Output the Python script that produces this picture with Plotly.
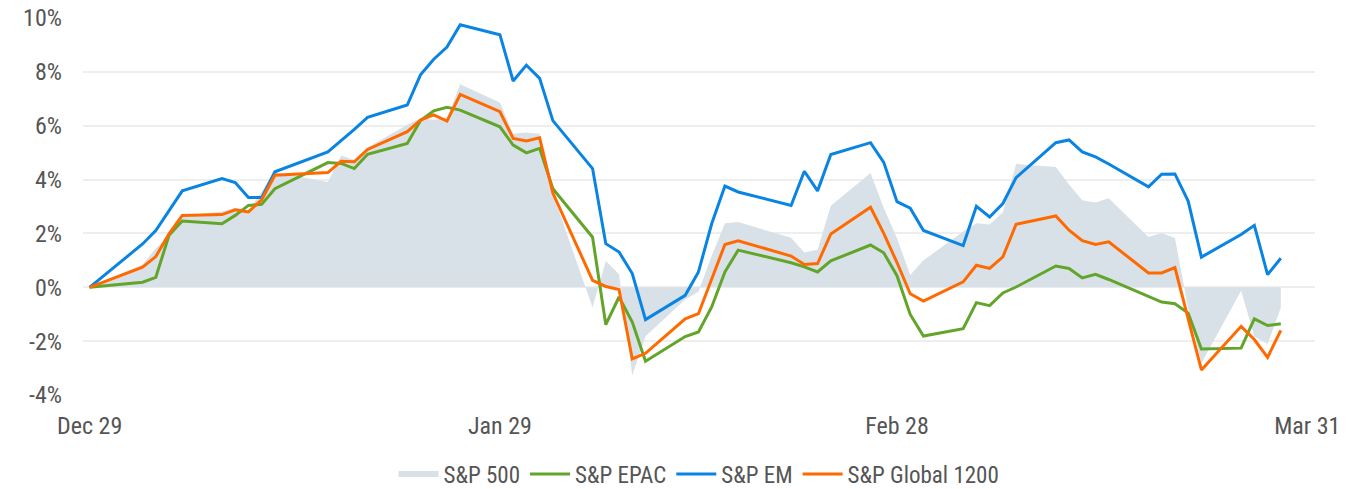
import plotly.graph_objects as go

dates = ["2017-12-29",
         "2018-01-02", "2018-01-03", "2018-01-04", "2018-01-05", "2018-01-08", "2018-01-09", "2018-01-10",
         "2018-01-11", "2018-01-12", "2018-01-16", "2018-01-17", "2018-01-18", "2018-01-19", "2018-01-22",
         "2018-01-23", "2018-01-24", "2018-01-25", "2018-01-26", "2018-01-29", "2018-01-30", "2018-01-31",
         "2018-02-01", "2018-02-02", "2018-02-05", "2018-02-06", "2018-02-07", "2018-02-08", "2018-02-09",
         "2018-02-12", "2018-02-13", "2018-02-14", "2018-02-15", "2018-02-16", "2018-02-20", "2018-02-21",
         "2018-02-22", "2018-02-23", "2018-02-26", "2018-02-27", "2018-02-28",
         "2018-03-01", "2018-03-02", "2018-03-05", "2018-03-06", "2018-03-07", "2018-03-08", "2018-03-09",
         "2018-03-12", "2018-03-13", "2018-03-14", "2018-03-15", "2018-03-16", "2018-03-19", "2018-03-20",
         "2018-03-21", "2018-03-22", "2018-03-23", "2018-03-26", "2018-03-27", "2018-03-28", "2018-03-29"]

sp500 = [0,
         0.85, 1.45, 1.91, 2.64, 2.81, 2.95, 2.84, 3.56, 4.27, 3.91, 4.89, 4.73, 5.19, 6.04, 6.28, 6.22, 6.29,
         7.54, 6.86, 5.70, 5.75,
         5.70, 3.48, -0.75, 0.98, 0.48, -3.28, -1.82, -0.45, -0.17, 1.17, 2.38, 2.42, 1.84, 1.29, 1.39, 3.03,
         4.24, 2.95, 1.82,
         0.46, 1.00, 2.07, 2.38, 2.33, 2.79, 4.58, 4.47, 3.82, 3.23, 3.15, 3.31, 1.87, 2.02, 1.83, -0.78,
         -2.82, -0.13, -1.83, -2.11, -0.76]

epac = [0,
        0.19, 0.37, 1.93, 2.46, 2.36, 2.67, 3.04, 3.08, 3.66, 4.63, 4.60, 4.41, 4.94, 5.34, 6.19, 6.55, 6.68,
        6.58, 5.96, 5.28, 4.99,
        5.16, 3.66, 1.86, -1.39, -0.36, -1.29, -2.75, -1.83, -1.66, -0.73, 0.57, 1.38, 0.91, 0.76, 0.57, 0.98,
        1.57, 1.28, 0.43,
        -1.01, -1.81, -1.54, -0.57, -0.68, -0.21, 0.01, 0.79, 0.70, 0.35, 0.48, 0.29, -0.36, -0.55, -0.61,
        -0.96, -2.29, -2.26, -1.17, -1.42, -1.35]

em = [0,
      1.61, 2.11, 2.85, 3.58, 4.04, 3.89, 3.33, 3.33, 4.29, 5.03, 5.45, 5.86, 6.31, 6.77, 7.89, 8.47, 8.92,
      9.75, 9.38, 7.66, 8.25,
      7.76, 6.19, 4.41, 1.62, 1.31, 0.51, -1.20, -0.30, 0.57, 2.36, 3.76, 3.54, 3.04, 4.31, 3.58, 4.93,
      5.37, 4.64, 3.18,
      2.94, 2.11, 1.55, 3.01, 2.61, 3.11, 4.07, 5.37, 5.47, 5.03, 4.84, 4.58, 3.73, 4.20, 4.21, 3.20,
      1.12, 1.96, 2.30, 0.47, 1.08]

global1200 = [0,
              0.75, 1.14, 1.99, 2.67, 2.70, 2.88, 2.80, 3.25, 4.16, 4.26, 4.68, 4.66, 5.12, 5.78, 6.21, 6.40,
              6.17, 7.16, 6.52, 5.53, 5.43,
              5.55, 3.50, 0.26, 0.03, -0.08, -2.66, -2.45, -1.17, -0.98, 0.32, 1.59, 1.73, 1.16, 0.85, 0.88,
              1.98, 2.97, 2.00, 0.92,
              -0.24, -0.51, 0.20, 0.82, 0.70, 1.13, 2.34, 2.65, 2.12, 1.73, 1.59, 1.69, 0.53, 0.53, 0.73,
              -1.20, -3.07, -1.45, -1.94, -2.60, -1.60]

series_names = ["S&P 500", "S&P EPAC", "S&P EM", "S&P Global 1200"]

x_tick_vals = ["2017-12-29", "2018-01-29", "2018-02-28", "2018-03-31"]
x_tick_text = ["Dec 29", "Jan 29", "Feb 28", "Mar 31"]
y_tick_vals = [-4, -2, 0, 2, 4, 6, 8, 10]
y_tick_text = ["-4%", "-2%", "0%", "2%", "4%", "6%", "8%", "10%"]

FONT = "Roboto Condensed, Roboto, sans-serif"
TXT = "#555555"

fig = go.Figure()
fig.add_trace(go.Scatter(x=dates, y=sp500, name=series_names[0], mode="none",
                         fill="tozeroy", fillcolor="#d9e1e8"))
fig.add_trace(go.Scatter(x=dates, y=epac, name=series_names[1], mode="lines",
                         line=dict(color="#62a52a", width=3)))
fig.add_trace(go.Scatter(x=dates, y=em, name=series_names[2], mode="lines",
                         line=dict(color="#0a84e3", width=3)))
fig.add_trace(go.Scatter(x=dates, y=global1200, name=series_names[3], mode="lines",
                         line=dict(color="#ff6a00", width=3)))

fig.update_layout(
    width=1361, height=489,
    margin=dict(l=83, r=46, t=18, b=94, autoexpand=False),
    paper_bgcolor="white", plot_bgcolor="white",
    font=dict(family=FONT, size=24, color=TXT),
    showlegend=True,
    legend=dict(orientation="h", x=0.5, xanchor="center", y=-0.21, yanchor="middle",
                font=dict(family=FONT, size=23, color=TXT), itemwidth=40),
    xaxis=dict(type="date", range=["2017-12-28 12:00", "2018-03-31 14:00"],
               tickmode="array", tickvals=x_tick_vals, ticktext=x_tick_text,
               showgrid=False, zeroline=False, showline=False, ticks="", automargin=False,
               ticklabelstandoff=14, tickfont=dict(family=FONT, size=24, color=TXT)),
    yaxis=dict(range=[-4, 10], tickmode="array", tickvals=y_tick_vals, ticktext=y_tick_text,
               showgrid=True, gridcolor="#eeeeee", gridwidth=1.5, zeroline=False, automargin=False,
               showline=False, ticks="", ticklabelstandoff=20,
               tickfont=dict(family=FONT, size=24, color=TXT)),
)

fig.write_html("out.html", config={"displayModeBar": False},
               post_script="document.body.style.margin='0';document.body.style.overflow='hidden';")
